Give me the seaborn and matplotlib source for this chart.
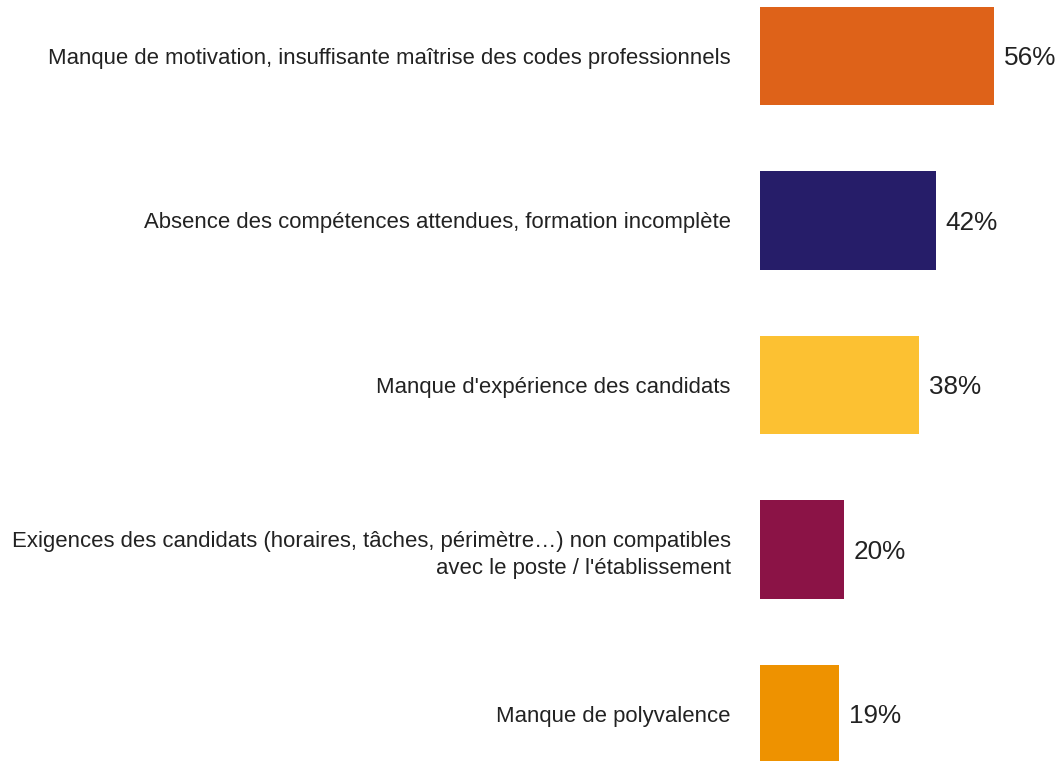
import matplotlib
matplotlib.use("Agg")
import matplotlib.pyplot as plt
import seaborn as sns
import pandas as pd

categories = [
    "Manque de motivation, insuffisante maîtrise des codes professionnels",
    "Absence des compétences attendues, formation incomplète",
    "Manque d'expérience des candidats",
    "Exigences des candidats (horaires, tâches, périmètre…) non compatibles\navec le poste / l'établissement",
    "Manque de polyvalence",
]
values = [56, 42, 38, 20, 19]
colors = ["#DE6219", "#261D69", "#FCC132", "#8B1346", "#EE9200"]

df = pd.DataFrame({"cause": categories, "pct": values})

sns.set_theme(style="white")
plt.rcParams["font.family"] = ["Liberation Sans", "DejaVu Sans"]

fig = plt.figure(figsize=(10.61, 7.61), dpi=100)
ax = fig.add_axes([760 / 1061, 0, 1 - 760 / 1061, 1])

sns.barplot(
    data=df,
    y="cause",
    x="pct",
    hue="cause",
    palette=colors,
    saturation=1,
    orient="h",
    width=0.6,
    linewidth=0,
    legend=False,
    ax=ax,
)

for cont in ax.containers:
    texts = ax.bar_label(cont, labels=[f"{v:.0f}%" for v in cont.datavalues],
                         padding=7, fontsize=18.8, color="#222222")
    for t in texts:
        t.set_verticalalignment("center_baseline")

ax.set_xlim(0, 72)
ax.set_ylim(4.286, -0.34)
ax.set_xlabel("")
ax.set_ylabel("")
ax.set_xticks([])
ax.tick_params(axis="y", length=0, pad=21, labelsize=15.9, labelcolor="#222222")
for lbl in ax.get_yticklabels():
    lbl.set_linespacing(1.35)
sns.despine(ax=ax, left=True, bottom=True)

fig.savefig("out.png", dpi=100)
